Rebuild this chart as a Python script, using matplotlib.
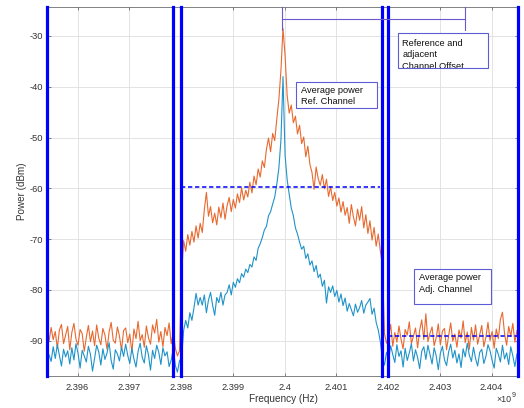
import numpy as np
import matplotlib
matplotlib.use("Agg")
import matplotlib.pyplot as plt
from matplotlib.patches import Rectangle
from matplotlib.transforms import Bbox, TransformedBbox

plt.rcParams['font.family'] = ['Liberation Sans', 'DejaVu Sans']

# Spectrum sampling: first bin and bin spacing (Hz)
F_START = 2.39545e9
F_STEP = 0.04e6

# Measured spectrum, upper trace (dBm): lower adjacent band, reference band, upper adjacent band
orange_low = [
    -90.1, -87.4, -89.8, -88.2, -91.5, -87.9, -86.8, -90.6, -88.9, -87.2,
    -91.8, -88.4, -86.6, -89.7, -90.9, -87.8, -88.6, -92.1, -89.3, -87.0,
    -90.2, -88.1, -91.0, -86.9, -89.5, -90.8, -87.6, -88.9, -91.7, -88.3,
    -86.4, -89.9, -90.5, -87.3, -89.1, -91.9, -88.0, -87.5, -90.4, -88.7,
    -92.3, -87.7, -89.6, -86.2, -90.0, -88.8, -91.3, -87.1, -89.4, -90.7,
    -86.9, -88.5, -85.8, -90.3, -88.2, -91.2, -87.4, -89.0, -86.5, -90.6,
    -88.4, -91.5, -93.0, -92.0,
]
orange_ref = [
    -77.0, -70.3, -72.4, -69.1, -71.2, -68.5, -70.6, -67.4, -69.8, -66.9,
    -68.7, -64.2, -60.8, -65.5, -63.6, -66.8, -64.9, -67.2, -63.7, -65.8,
    -62.9, -66.1, -63.4, -61.8, -64.6, -62.2, -63.9, -61.1, -62.8, -59.9,
    -62.3, -60.4, -61.7, -58.8, -60.9, -57.6, -59.3, -56.2, -57.8, -54.6,
    -55.9, -52.3, -50.1, -52.8, -49.2, -50.6, -46.4, -42.5, -36.8, -28.5,
    -33.9, -41.7, -45.2, -43.6, -47.1, -45.8, -49.3, -47.6, -51.2, -49.9,
    -53.8, -51.7, -55.3, -56.9, -60.2, -55.8, -58.1, -59.4, -57.3, -60.1,
    -58.2, -61.6, -59.7, -62.4, -60.8, -63.5, -61.9, -64.7, -62.6, -65.3,
    -63.8, -66.9, -63.2, -65.6, -67.4, -64.1, -66.3, -63.6, -67.8, -65.2,
    -68.9, -66.4, -70.2, -67.7, -71.4, -69.0, -72.3, -75.0,
]
orange_high = [
    -88.6, -90.5, -89.2, -86.8, -91.1, -88.4, -90.3, -87.1, -89.7, -91.6,
    -87.8, -88.9, -86.3, -90.6, -89.1, -87.5, -91.4, -88.0, -85.9, -89.8,
    -84.7, -90.2, -88.5, -87.3, -91.0, -89.4, -86.7, -90.8, -88.1, -87.6,
    -91.8, -89.0, -86.5, -90.1, -88.7, -91.3, -87.9, -89.5, -86.1, -90.4,
    -88.3, -91.7, -87.4, -89.9, -86.9, -90.7, -88.8, -87.0, -91.2, -89.3,
    -86.4, -90.0, -88.2, -91.5, -87.7, -89.6, -85.8, -84.4, -88.6, -90.9,
    -87.2, -89.1, -86.6, -90.3, -88.0,
]

# Measured spectrum, lower trace (dBm)
blue_low = [
    -92.8, -94.1, -91.2, -93.5, -90.8, -92.9, -95.0, -91.7, -93.2, -92.0,
    -94.6, -91.4, -93.8, -90.6, -92.5, -95.4, -91.9, -93.0, -94.2, -91.1,
    -92.7, -96.0, -93.4, -90.9, -92.2, -94.8, -91.6, -93.7, -92.4, -90.4,
    -93.9, -95.6, -91.8, -92.6, -94.0, -91.3, -93.1, -90.7, -92.9, -94.5,
    -91.5, -93.6, -95.2, -92.1, -90.5, -93.3, -94.4, -91.0, -92.8, -95.8,
    -91.9, -93.5, -90.9, -92.3, -94.7, -91.4, -93.0, -92.2, -95.1, -93.8,
    -91.6, -94.9, -96.2, -94.0,
]
blue_ref = [
    -93.4, -88.0, -86.0, -87.5, -84.5, -86.0, -83.5, -80.7, -83.0, -81.5,
    -83.0, -81.0, -84.5, -82.0, -80.5, -83.0, -85.0, -81.5, -82.5, -80.5,
    -83.0, -81.0, -80.5, -79.0, -81.0, -78.5, -79.5, -77.8, -78.6, -76.8,
    -77.5, -75.9, -76.6, -75.0, -75.5, -73.5, -74.2, -71.8, -70.9, -69.7,
    -68.2, -67.5, -65.4, -64.6, -63.1, -61.7, -59.2, -56.0, -50.5, -38.0,
    -53.5, -58.3, -61.2, -63.9, -65.4, -67.8, -69.0, -70.6, -72.0, -71.4,
    -73.8, -72.9, -75.1, -74.3, -76.4, -75.2, -77.6, -76.9, -79.3, -78.1,
    -82.6, -79.4, -80.5, -79.2, -81.3, -80.1, -82.4, -80.8, -83.1, -81.6,
    -84.2, -82.7, -83.9, -85.1, -82.8, -84.4, -83.5, -82.1, -84.6, -83.0,
    -82.4, -81.7, -84.8, -83.6, -86.4, -87.9, -90.2, -93.5,
]
blue_high = [
    -94.8, -92.3, -93.6, -91.0, -92.7, -94.3, -90.8, -93.1, -92.0, -95.2,
    -91.5, -93.9, -92.4, -90.6, -94.0, -91.8, -93.3, -95.5, -92.1, -91.2,
    -93.7, -90.9, -92.8, -94.6, -91.4, -93.0, -95.7, -92.5, -91.1, -93.8,
    -94.9, -92.2, -90.7, -93.4, -91.9, -94.4, -92.6, -95.3, -91.6, -93.2,
    -90.5, -92.9, -94.1, -91.3, -93.5, -95.0, -92.3, -91.7, -94.5, -93.1,
    -90.8, -92.0, -93.9, -95.4, -91.5, -92.7, -94.2, -90.9, -93.6, -92.4,
    -94.7, -91.2, -93.0, -95.1, -92.6,
]

# Average channel powers (dBm) and the bands they are computed over (Hz)
ref_avg_power = -59.8
adj_avg_power = -89.0
ref_band = (2.39800e9, 2.40185e9)
adj_band = (2.40200e9, 2.40451e9)

# Channel boundary markers (Hz)
channel_edges = [2.39542e9, 2.39785e9, 2.39800e9, 2.40189e9, 2.40200e9, 2.40451e9]

# Reference-to-adjacent channel offset marker (Hz)
offset_start = 2.39995e9
offset_stop = 2.40348e9

x_ticks = [2.396e9, 2.397e9, 2.398e9, 2.399e9, 2.400e9, 2.401e9, 2.402e9, 2.403e9, 2.404e9]
x_tick_labels = ['2.396', '2.397', '2.398', '2.399', '2.4', '2.401', '2.402', '2.403', '2.404']
y_ticks = [-90, -80, -70, -60, -50, -40, -30]
y_tick_labels = ['-90', '-80', '-70', '-60', '-50', '-40', '-30']

orange = np.array(orange_low + orange_ref + orange_high)
blue = np.array(blue_low + blue_ref + blue_high)
freq = F_START + F_STEP * np.arange(len(orange))

W, H = 524, 408
fig = plt.figure(figsize=(W / 100, H / 100), dpi=100)
fig.patch.set_facecolor('white')


def fx(x):
    return x / W


def fy(y):
    return 1 - y / H


ax_l, ax_r, ax_t, ax_b = 47.5, 518.0, 7.0, 375.7
ax = fig.add_axes([fx(ax_l), fy(ax_b), (ax_r - ax_l) / W, (ax_b - ax_t) / H])

ax.plot(freq, orange, color='#e8692f', lw=0.8, zorder=3)
ax.plot(freq, blue, color='#1f93c9', lw=0.8, zorder=4)

dash = (0, (2.8, 1.8))
ax.plot(ref_band, [ref_avg_power, ref_avg_power], color='#0000ff', lw=1.1,
        linestyle=dash, zorder=5)
ax.plot(adj_band, [adj_avg_power, adj_avg_power], color='#0000ff', lw=1.1,
        linestyle=dash, zorder=5)

for xe in channel_edges:
    ax.axvline(xe, color='#0000ff', lw=2.3, zorder=6, clip_on=False)

mark_col = '#6a5acd'
y_top = -24.3
ax.plot([offset_start, offset_stop], [-26.7, -26.7], color=mark_col, lw=0.8,
        zorder=7, clip_on=False)
for xo in (offset_start, offset_stop):
    ax.plot([xo, xo], [y_top, -28.8], color=mark_col, lw=0.8, zorder=7,
            clip_on=False)

ax.set_xlim(2.39542e9, 2.40451e9)
ax.set_ylim(-96.9, y_top)
ax.set_xticks(x_ticks)
ax.set_xticklabels(x_tick_labels)
ax.set_yticks(y_ticks)
ax.set_yticklabels(y_tick_labels)
ax.grid(True, color='#dedede', lw=0.6)
ax.set_axisbelow(True)
ax.tick_params(direction='in', length=2.5, width=0.5, colors='#555555',
               labelcolor='#333333', labelsize=6.7, top=True, right=True)
ax.tick_params(axis='x', pad=5)
ax.tick_params(axis='y', pad=3.2)
for s in ax.spines.values():
    s.set_color('#6e6e6e')
    s.set_linewidth(0.6)

fig.text(fx(22), fy(191.4), 'Power (dBm)', rotation=90, ha='center',
         va='center', fontsize=7.1, color='#333333')
fig.text(fx(283), fy(402.2), 'Frequency (Hz)', ha='center', va='baseline',
         fontsize=7.2, color='#333333')
fig.text(fx(511.5), fy(402.5), '\u00d710', ha='right', va='baseline',
         fontsize=6.4, color='#333333')
fig.text(fx(511.8), fy(397.3), '9', ha='left', va='baseline',
         fontsize=5.0, color='#333333')

box_col = '#5c5cd6'


def text_box(x0, y0, x1, y1, tx, lines, clip=False):
    rect = Rectangle((fx(x0), fy(y1)), (x1 - x0) / W, (y1 - y0) / H,
                     transform=fig.transFigure, facecolor='white',
                     edgecolor=box_col, lw=0.8, zorder=10)
    fig.add_artist(rect)
    cb = TransformedBbox(Bbox([[fx(x0), fy(y1)], [fx(x1), fy(y0)]]),
                         fig.transFigure)
    for text, base in lines:
        t = fig.text(fx(tx), fy(base), text, ha='left', va='baseline',
                     fontsize=6.7, color='#111111', zorder=11)
        if clip:
            t.set_clip_box(cb)
            t.set_clip_on(True)


text_box(296, 81.7, 377, 108.3, 300.7,
         [('Average power', 93.3), ('Ref. Channel', 103.6)])
text_box(397.7, 33.3, 488, 68.3, 402.3,
         [('Reference and', 46.0), ('adjacent', 57.4), ('Channel Offset', 68.9)],
         clip=True)
text_box(414, 269.3, 491, 304.3, 419.3,
         [('Average power', 280.0), ('Adj. Channel', 292.5)])

fig.savefig('out.png', dpi=100)
